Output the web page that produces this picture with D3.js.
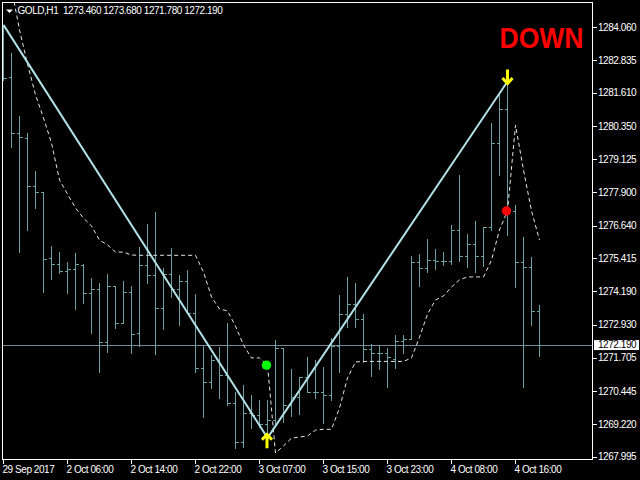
<!DOCTYPE html>
<html lang="en">
<head>
<meta charset="UTF-8">
<title>GOLD,H1</title>
<script src="https://cdn.jsdelivr.net/npm/d3@7/dist/d3.min.js"></script>
<style>
  html, body { margin: 0; padding: 0; background: #000; }
  svg { display: block; }
  text { font-family: "Liberation Sans", Arial, sans-serif; }
</style>
</head>
<body>
<svg id="chart" width="640" height="480"></svg>
<script>
// H1 bars (oldest first)
const symbol = "GOLD,H1";
const opens = [1283.59,1282.19,1280.09,1279.90,1278.12,1277.89,1275.42,1275.19,1274.94,1275.02,
  1275.17,1274.11,1274.27,1272.30,1274.39,1272.99,1274.17,1272.61,1275.17,1274.79,
  1273.55,1274.83,1274.26,1274.57,1273.36,1271.30,1270.80,1271.61,1271.05,1269.99,
  1268.56,1269.63,1269.56,1269.22,1269.37,1272.05,1269.93,1270.24,1270.99,1270.43,
  1270.43,1270.30,1272.14,1273.33,1273.72,1273.13,1272.01,1271.89,1271.89,1271.64,
  1272.33,1272.39,1275.27,1275.04,1275.35,1275.33,1275.31,1276.48,1275.50,1275.94,
  1275.50,1276.60,1279.72,1280.99,1277.20,1275.29,1275.08,1273.46];
const highs = [1284.15,1283.11,1280.74,1280.09,1278.68,1277.89,1275.88,1275.65,1275.27,1275.61,
  1275.19,1274.68,1274.48,1274.83,1274.39,1274.58,1274.38,1275.85,1276.70,1277.16,
  1275.04,1275.79,1274.79,1274.98,1274.08,1272.17,1271.80,1272.10,1272.99,1270.43,
  1270.68,1270.30,1270.12,1270.12,1272.36,1272.05,1271.27,1270.99,1271.71,1271.61,
  1271.36,1272.43,1274.05,1274.73,1274.50,1273.33,1272.23,1272.17,1272.05,1272.55,
  1272.55,1275.50,1275.58,1276.13,1275.75,1275.66,1276.66,1278.53,1276.33,1276.81,
  1276.60,1280.47,1281.59,1282.03,1277.41,1276.23,1275.46,1273.68];
const lows = [1282.09,1279.57,1275.67,1276.48,1277.29,1274.17,1274.63,1274.86,1274.11,1273.51,
  1273.73,1272.63,1271.18,1271.92,1272.80,1272.99,1271.89,1272.14,1274.48,1271.84,
  1272.76,1273.98,1272.92,1273.36,1271.16,1269.49,1270.57,1270.19,1269.93,1268.31,
  1268.37,1269.06,1269.11,1268.70,1269.22,1269.30,1269.52,1269.59,1270.43,1270.18,
  1269.25,1270.12,1271.17,1272.86,1272.86,1271.55,1271.01,1271.26,1270.59,1271.30,
  1271.86,1272.40,1274.38,1274.92,1275.01,1275.17,1275.19,1275.32,1275.11,1274.92,
  1275.13,1276.48,1278.52,1276.29,1274.35,1270.59,1272.92,1271.78];
const closes = [1282.16,1280.09,1279.94,1278.12,1277.89,1275.38,1275.19,1274.94,1275.02,1275.19,
  1274.13,1274.27,1272.30,1274.40,1272.99,1274.17,1272.59,1275.17,1274.79,1273.55,
  1274.83,1274.26,1274.57,1273.36,1271.30,1270.80,1271.61,1271.05,1269.99,1268.56,
  1269.63,1269.56,1269.22,1269.37,1272.05,1269.93,1270.24,1270.99,1270.43,1270.43,
  1270.30,1272.14,1273.33,1273.72,1273.14,1272.01,1271.89,1271.89,1271.74,1272.32,
  1272.39,1275.27,1275.04,1275.34,1275.33,1275.32,1276.48,1275.50,1275.94,1275.50,
  1276.60,1279.72,1280.99,1277.20,1275.29,1275.08,1273.46,1272.19];

// dashed trailing line (one value per bar, null where absent)
const trail = [null,1285.53,1283.96,1282.69,1281.53,1280.67,1279.73,1278.35,1277.82,1277.30,
  1276.92,1276.63,1276.10,1275.92,1275.65,1275.65,1275.54,1275.53,1275.53,1275.53,
  1275.53,1275.53,1275.53,1275.53,1275.53,1274.90,1273.97,1273.52,1273.45,1272.88,
  1272.17,1271.69,1271.69,1271.42,1268.13,1268.40,1268.69,1268.73,1268.77,1268.99,
  1269.02,1269.02,1269.82,1270.94,1271.54,1271.56,1271.56,1271.56,1271.56,1271.56,
  1271.56,1271.69,1272.47,1273.33,1273.86,1274.01,1274.34,1274.61,1274.72,1274.72,
  1274.72,1275.35,1276.48,1277.19,1280.40,1278.72,1277.19,1276.10];

// zigzag swing points [bar, price]
const zigzag = [[0, 1284.15], [33, 1268.70], [63, 1282.03]];
const buySignalBar = 33;
const sellSignalBar = 63;
const signalText = "DOWN";

const priceTicks = [1284.060,1282.835,1281.610,1280.350,1279.125,1277.900,1276.640,
  1275.415,1274.190,1272.930,1271.705,1270.445,1269.220,1267.995];
const timeTickBars = [0, 8, 16, 24, 32, 40, 48, 56, 64];
const timeTickLabels = ["29 Sep 2017","2 Oct 06:00","2 Oct 14:00","2 Oct 22:00","3 Oct 07:00",
  "3 Oct 15:00","3 Oct 23:00","4 Oct 08:00","4 Oct 16:00"];

const svg = d3.select("#chart");
const plot = { left: 2.5, top: 2.5, right: 592.5, bottom: 459.5 };

const x = d3.scaleLinear().domain([0, 67]).range([3.5, 539.5]);
const y = d3.scaleLinear().domain([1267.995, 1284.060]).range([456.7, 27.3]);
const py = v => Math.round(y(v)) + 0.5;   // crisp pixel rows

svg.append("rect").attr("width", 640).attr("height", 480).attr("fill", "#000");

svg.append("clipPath").attr("id", "plotclip")
  .append("rect")
  .attr("x", plot.left).attr("y", plot.top)
  .attr("width", plot.right - plot.left).attr("height", plot.bottom - plot.top);

const g = svg.append("g").attr("clip-path", "url(#plotclip)");

const lastClose = closes[closes.length - 1];

// current price line
g.append("line")
  .attr("x1", plot.left).attr("x2", plot.right)
  .attr("y1", py(lastClose)).attr("y2", py(lastClose))
  .attr("stroke", "#778899").attr("stroke-width", 1);

// OHLC bars
const bars = d3.range(opens.length).map(i => ({ i, o: opens[i], h: highs[i], l: lows[i], c: closes[i] }));
g.append("g")
  .attr("shape-rendering", "crispEdges")
  .selectAll("path")
  .data(bars)
  .join("path")
  .attr("d", d => {
    const cx = x(d.i);
    return `M${cx},${Math.round(y(d.h))}V${Math.round(y(d.l)) + 1}` +
           `M${cx - 3},${py(d.o)}H${cx}` +
           `M${cx},${py(d.c)}H${cx + 3.5}`;
  })
  .attr("fill", "none")
  .attr("stroke", "#6a9fa4")
  .attr("stroke-width", 1);

// dashed line
g.append("path")
  .datum(trail.map((v, i) => [i, v]))
  .attr("d", d3.line().defined(d => d[1] != null).x(d => x(d[0])).y(d => y(d[1])))
  .attr("fill", "none")
  .attr("stroke", "#e6e6e6")
  .attr("stroke-width", 1)
  .attr("stroke-dasharray", "4,3");

// zigzag
g.append("path")
  .datum(zigzag)
  .attr("d", d3.line().x(d => x(d[0])).y(d => y(d[1])))
  .attr("fill", "none")
  .attr("stroke", "#b0e0e6")
  .attr("stroke-width", 2);

// signal dots on the dashed line
g.selectAll("circle.sig")
  .data([[buySignalBar, "#00ff00"], [sellSignalBar, "#ff0000"]])
  .join("circle")
  .attr("class", "sig")
  .attr("cx", d => x(d[0]) - 1)
  .attr("cy", d => y(trail[d[0]]))
  .attr("r", 4.7)
  .attr("fill", d => d[1]);

// yellow arrows at the zigzag turning points
function arrow(cx, tip, dir) {
  const p = d3.path();
  p.moveTo(cx, tip); p.lineTo(cx, tip + dir * 14);
  p.moveTo(cx - 5, tip + dir * 5.5); p.lineTo(cx, tip); p.lineTo(cx + 5, tip + dir * 5.5);
  return p.toString();
}
g.append("path")
  .attr("d", arrow(x(buySignalBar) - 0.5, y(zigzag[1][1]) - 3.5, 1))
  .attr("fill", "none").attr("stroke", "#ffff00").attr("stroke-width", 3);
g.append("path")
  .attr("d", arrow(x(sellSignalBar), y(zigzag[2][1]) + 2, -1))
  .attr("fill", "none").attr("stroke", "#ffff00").attr("stroke-width", 3);

// frame
svg.append("rect")
  .attr("x", plot.left).attr("y", plot.top)
  .attr("width", plot.right - plot.left).attr("height", plot.bottom - plot.top)
  .attr("fill", "none").attr("stroke", "#fff").attr("stroke-width", 1)
  .attr("shape-rendering", "crispEdges");

// price axis
const yAxis = svg.append("g");
yAxis.selectAll("line").data(priceTicks).join("line")
  .attr("x1", plot.right).attr("x2", plot.right + 4)
  .attr("y1", d => py(d)).attr("y2", d => py(d))
  .attr("stroke", "#fff").attr("shape-rendering", "crispEdges");
yAxis.selectAll("text").data(priceTicks).join("text")
  .attr("x", 598).attr("y", d => y(d) + 3.6)
  .attr("fill", "#fff").attr("font-size", 10).attr("letter-spacing", -0.45)
  .text(d => d.toFixed(3));

// current price label
svg.append("rect")
  .attr("x", 594).attr("y", y(lastClose) - 4.5)
  .attr("width", 45).attr("height", 10)
  .attr("fill", "#fff");
svg.append("text")
  .attr("x", 598).attr("y", y(lastClose) + 3.8)
  .attr("fill", "#000").attr("font-size", 10).attr("letter-spacing", -0.45)
  .text(lastClose.toFixed(3));

// time axis
const xAxis = svg.append("g");
xAxis.selectAll("line").data(timeTickBars).join("line")
  .attr("x1", d => x(d)).attr("x2", d => x(d))
  .attr("y1", plot.bottom).attr("y2", plot.bottom + 4)
  .attr("stroke", "#fff").attr("shape-rendering", "crispEdges");
xAxis.selectAll("text").data(timeTickBars).join("text")
  .attr("x", d => x(d) - 1).attr("y", 472.5)
  .attr("fill", "#fff").attr("font-size", 10).attr("letter-spacing", -0.45)
  .text((d, i) => timeTickLabels[i]);

// header: symbol and last bar OHLC
svg.append("path").attr("d", "M6,9.5H13L9.5,13Z").attr("fill", "#fff");
svg.append("text")
  .attr("x", 17.5).attr("y", 14)
  .attr("fill", "#fff").attr("font-size", 10).attr("letter-spacing", -0.45)
  .style("white-space", "pre")
  .text(`${symbol}  ${[opens, highs, lows, closes].map(a => a[a.length - 1].toFixed(3)).join(" ")}`);

// signal label
svg.append("text")
  .attr("x", 583.5).attr("y", 48.3)
  .attr("text-anchor", "end")
  .attr("fill", "#ff0000").attr("font-size", 29).attr("font-weight", "bold")
  .attr("textLength", 84).attr("lengthAdjust", "spacingAndGlyphs")
  .text(signalText);
</script>
</body>
</html>
